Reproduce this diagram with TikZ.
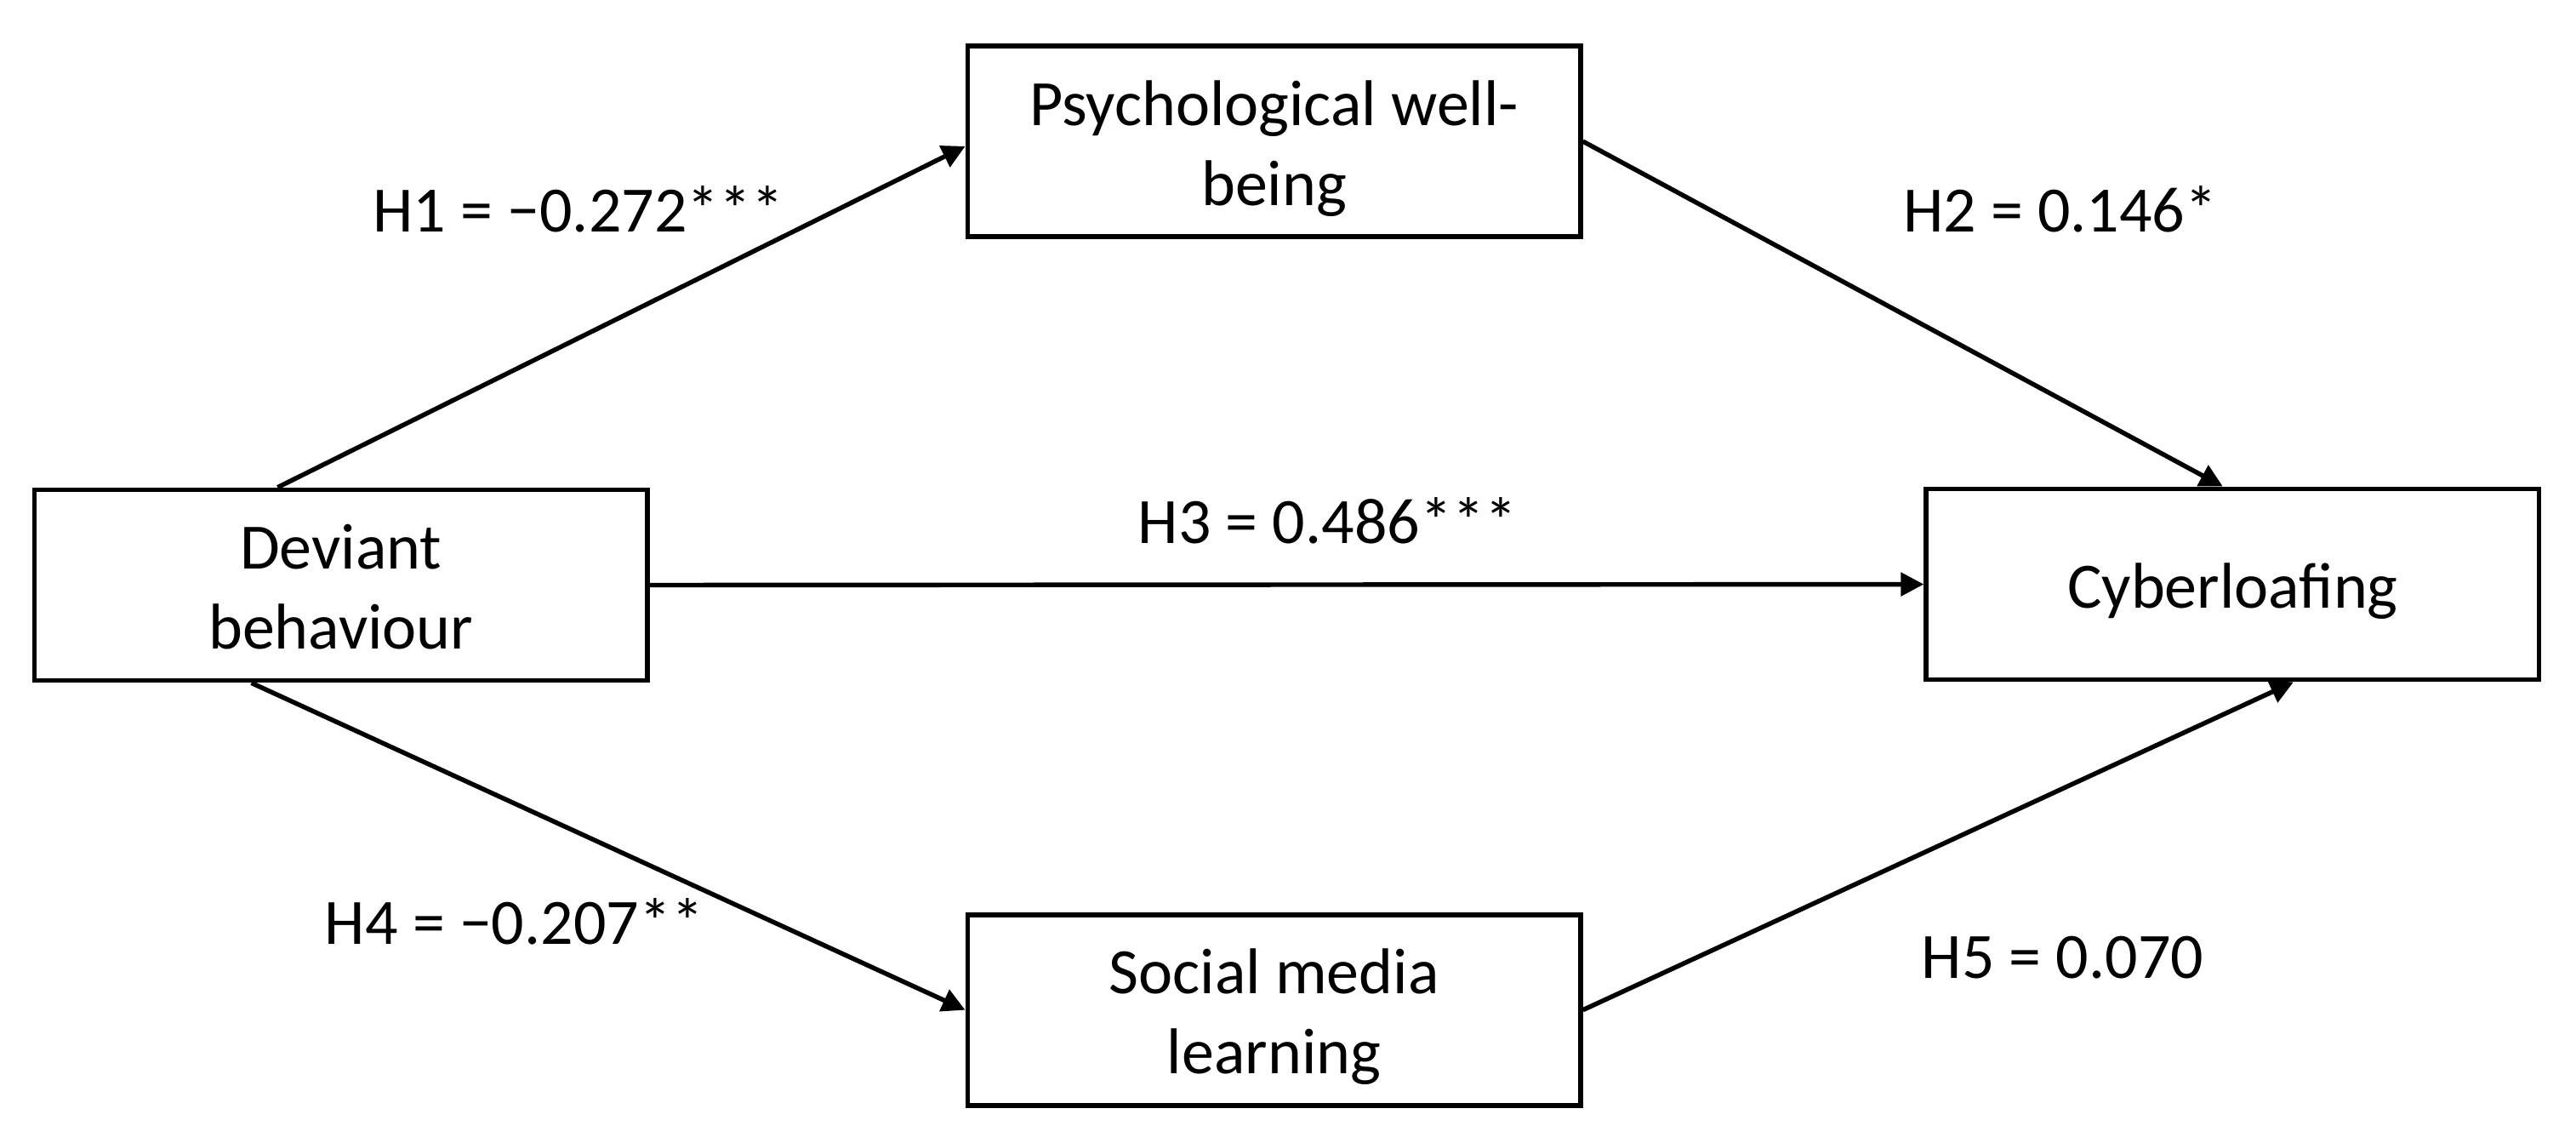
\documentclass[tikz,border=0pt]{standalone}
\usepackage{fontspec}
\setmainfont{Carlito}
\usetikzlibrary{arrows.meta}
\newcommand{\boxstrut}{\rule[-5.5pt]{0pt}{27.5pt}}

\begin{document}
\begin{tikzpicture}[
    box/.style={draw,line width=1.7pt,minimum width=74.6mm,minimum height=23.2mm,align=center,
      font=\fontsize{22.4}{27.7}\selectfont},
    hyp/.style={anchor=base,font=\fontsize{22.4}{27.7}\selectfont},
    conn/.style={line width=1.6pt,-{Triangle[length=2.8mm,width=2.8mm]}}
  ]
    \useasboundingbox (0,0) rectangle (313.6mm,-139mm);

    \node[box] (deviant) at (41.5mm,-71.2mm) {Deviant\boxstrut\\behaviour\boxstrut};
    \node[box] (wellbeing) at (155.1mm,-17.2mm) {Psychological well-\boxstrut\\being\boxstrut};
    \node[box] (cyber) at (271.8mm,-71.1mm) {Cyberloafing\boxstrut};
    \node[box] (socmedia) at (155.1mm,-122.9mm) {Social media\boxstrut\\learning\boxstrut};

    \draw[conn] ([xshift=-7.7mm]deviant.north) -- ([yshift=-0.6mm]wellbeing.west);
    \draw[conn] (wellbeing.east) -- ([xshift=-1.2mm]cyber.north);
    \draw[conn] (deviant.east) -- (cyber.west);
    \draw[conn] ([xshift=-10.9mm]deviant.south) -- (socmedia.west);
    \draw[conn] (socmedia.east) -- ([xshift=7.4mm]cyber.south);

    \node[hyp] (h1) at (70.4mm,-28.2mm) {H1 = −0.272***};
    \node[hyp] (h2) at (250.8mm,-28.2mm) {H2 = 0.146*};
    \node[hyp] (h3) at (161.6mm,-66.1mm) {H3 = 0.486***};
    \node[hyp] (h4) at (62.6mm,-114.9mm) {H4 = −0.207**};
    \node[hyp] (h5) at (251.1mm,-119.0mm) {H5 = 0.070};
  \end{tikzpicture}
\end{document}
